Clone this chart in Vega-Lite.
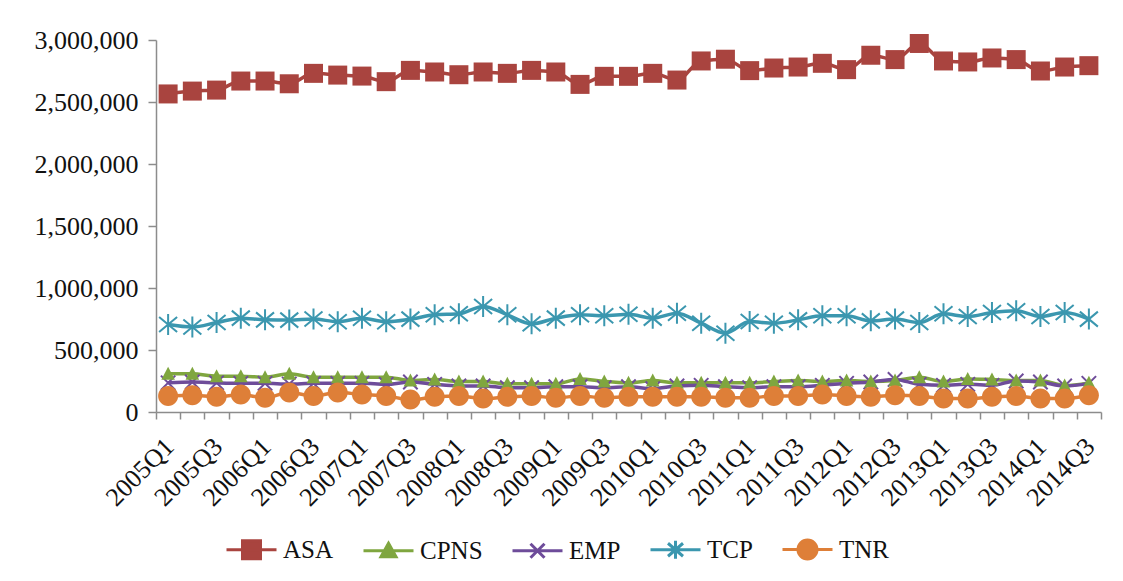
{
  "$schema": "https://vega.github.io/schema/vega-lite/v6.json",
  "autosize": "none",
  "padding": {"left": 156, "top": 40, "right": 22, "bottom": 169},
  "width": 945,
  "height": 372,
  "background": "white",
  "data": {"values": [
    {"q":"2005Q1","ASA":2565000,"CPNS":308000,"EMP":235000,"TCP":705000,"TNR":130000},
    {"q":"2005Q2","ASA":2588000,"CPNS":308000,"EMP":242000,"TCP":685000,"TNR":135000},
    {"q":"2005Q3","ASA":2596000,"CPNS":289000,"EMP":235000,"TCP":721000,"TNR":122000},
    {"q":"2005Q4","ASA":2669000,"CPNS":289000,"EMP":231000,"TCP":757000,"TNR":141000},
    {"q":"2006Q1","ASA":2669000,"CPNS":281000,"EMP":231000,"TCP":743000,"TNR":114000},
    {"q":"2006Q2","ASA":2647000,"CPNS":308000,"EMP":225000,"TCP":741000,"TNR":157000},
    {"q":"2006Q3","ASA":2731000,"CPNS":281000,"EMP":231000,"TCP":750000,"TNR":130000},
    {"q":"2006Q4","ASA":2717000,"CPNS":281000,"EMP":231000,"TCP":728000,"TNR":157000},
    {"q":"2007Q1","ASA":2709000,"CPNS":281000,"EMP":231000,"TCP":756000,"TNR":141000},
    {"q":"2007Q2","ASA":2664000,"CPNS":281000,"EMP":223000,"TCP":728000,"TNR":130000},
    {"q":"2007Q3","ASA":2755000,"CPNS":254000,"EMP":242000,"TCP":749000,"TNR":100000},
    {"q":"2007Q4","ASA":2742000,"CPNS":262000,"EMP":223000,"TCP":784000,"TNR":122000},
    {"q":"2008Q1","ASA":2720000,"CPNS":246000,"EMP":210000,"TCP":792000,"TNR":130000},
    {"q":"2008Q2","ASA":2742000,"CPNS":246000,"EMP":210000,"TCP":851000,"TNR":108000},
    {"q":"2008Q3","ASA":2731000,"CPNS":227000,"EMP":196000,"TCP":784000,"TNR":122000},
    {"q":"2008Q4","ASA":2755000,"CPNS":227000,"EMP":196000,"TCP":711000,"TNR":130000},
    {"q":"2009Q1","ASA":2742000,"CPNS":227000,"EMP":204000,"TCP":757000,"TNR":114000},
    {"q":"2009Q2","ASA":2642000,"CPNS":267000,"EMP":204000,"TCP":784000,"TNR":130000},
    {"q":"2009Q3","ASA":2707000,"CPNS":246000,"EMP":196000,"TCP":776000,"TNR":114000},
    {"q":"2009Q4","ASA":2707000,"CPNS":235000,"EMP":204000,"TCP":788000,"TNR":122000},
    {"q":"2010Q1","ASA":2731000,"CPNS":254000,"EMP":188000,"TCP":757000,"TNR":122000},
    {"q":"2010Q2","ASA":2677000,"CPNS":235000,"EMP":210000,"TCP":797000,"TNR":122000},
    {"q":"2010Q3","ASA":2831000,"CPNS":235000,"EMP":215000,"TCP":716000,"TNR":122000},
    {"q":"2010Q4","ASA":2845000,"CPNS":235000,"EMP":204000,"TCP":635000,"TNR":114000},
    {"q":"2011Q1","ASA":2753000,"CPNS":235000,"EMP":196000,"TCP":729000,"TNR":114000},
    {"q":"2011Q2","ASA":2774000,"CPNS":246000,"EMP":204000,"TCP":716000,"TNR":130000},
    {"q":"2011Q3","ASA":2782000,"CPNS":254000,"EMP":204000,"TCP":743000,"TNR":130000},
    {"q":"2011Q4","ASA":2812000,"CPNS":246000,"EMP":215000,"TCP":776000,"TNR":141000},
    {"q":"2012Q1","ASA":2761000,"CPNS":254000,"EMP":231000,"TCP":776000,"TNR":130000},
    {"q":"2012Q2","ASA":2877000,"CPNS":246000,"EMP":242000,"TCP":735000,"TNR":122000},
    {"q":"2012Q3","ASA":2842000,"CPNS":254000,"EMP":263000,"TCP":749000,"TNR":135000},
    {"q":"2012Q4","ASA":2972000,"CPNS":281000,"EMP":223000,"TCP":721000,"TNR":130000},
    {"q":"2013Q1","ASA":2831000,"CPNS":246000,"EMP":215000,"TCP":792000,"TNR":108000},
    {"q":"2013Q2","ASA":2823000,"CPNS":267000,"EMP":223000,"TCP":770000,"TNR":108000},
    {"q":"2013Q3","ASA":2855000,"CPNS":262000,"EMP":215000,"TCP":802000,"TNR":122000},
    {"q":"2013Q4","ASA":2842000,"CPNS":254000,"EMP":250000,"TCP":816000,"TNR":130000},
    {"q":"2014Q1","ASA":2750000,"CPNS":254000,"EMP":242000,"TCP":770000,"TNR":108000},
    {"q":"2014Q2","ASA":2782000,"CPNS":214000,"EMP":210000,"TCP":802000,"TNR":108000},
    {"q":"2014Q3","ASA":2793000,"CPNS":235000,"EMP":231000,"TCP":749000,"TNR":135000}
  ]},
  "transform": [
    {"fold": ["ASA", "CPNS", "EMP", "TCP", "TNR"], "as": ["series", "value"]}
  ],
  "encoding": {
    "x": {
      "field": "q", "type": "ordinal", "bandPosition": 0.5,
      "scale": {"type": "band", "paddingInner": 0, "paddingOuter": 0},
      "axis": {
        "title": null, "tickBand": "extent", "labelAngle": -45, "labelOverlap": false, "labelBound": false,
        "labelExpr": "(substring(datum.value,5,6) == '1' || substring(datum.value,5,6) == '3') ? datum.value : ''",
        "labelFont": "Liberation Serif", "labelFontSize": 26, "labelColor": "#111",
        "domainColor": "#8c8c8c", "domainWidth": 1.5, "tickColor": "#8c8c8c", "tickWidth": 1.5, "tickSize": 7,
        "labelPadding": 14, "labelOffset": -8
      }
    },
    "y": {
      "field": "value", "type": "quantitative",
      "scale": {"domain": [0, 3000000], "nice": false},
      "axis": {
        "title": null, "values": [0, 500000, 1000000, 1500000, 2000000, 2500000, 3000000], "format": ",d",
        "grid": false, "labelFont": "Liberation Serif", "labelFontSize": 26, "labelColor": "#111",
        "domainColor": "#8c8c8c", "domainWidth": 1.5, "tickColor": "#8c8c8c", "tickWidth": 1.5, "tickSize": 8,
        "labelPadding": 10
      }
    }
  },
  "layer": [
    {
      "mark": {"type": "line", "interpolate": "monotone", "strokeWidth": 3.5},
      "encoding": {
        "color": {"field": "series", "type": "nominal", "legend": null,
          "scale": {"domain": ["ASA", "CPNS", "EMP", "TCP", "TNR"], "range": ["#A9443F", "#7FA63F", "#6E4C9A", "#3B97AF", "#DE7F38"]}},
        "detail": {"field": "series"}
      }
    },
    {
      "transform": [{"filter": "datum.series == 'EMP' || datum.series == 'TCP'"}],
      "mark": {"type": "point", "filled": false, "strokeWidth": 2, "size": 400, "opacity": 1},
      "encoding": {
        "color": {"field": "series", "type": "nominal", "legend": null,
          "scale": {"domain": ["ASA", "CPNS", "EMP", "TCP", "TNR"], "range": ["#A9443F", "#7FA63F", "#6E4C9A", "#3B97AF", "#DE7F38"]}},
        "shape": {"field": "series", "type": "nominal", "legend": null,
          "scale": {"domain": ["ASA", "CPNS", "EMP", "TCP", "TNR"], "range": [
            "M-0.95,-0.95H0.95V0.95H-0.95Z",
            "M0,-0.7L0.68,0.6H-0.68Z",
            "M-0.72,-0.72L0.72,0.72M-0.72,0.72L0.72,-0.72",
            "M-0.9,-0.75L0.9,0.75M-0.9,0.75L0.9,-0.75M0,-1.05V1.05",
            "M-1,0A1,1 0 1,0 1,0A1,1 0 1,0 -1,0Z"]}}
      }
    },
    {
      "transform": [{"filter": "datum.series == 'ASA' || datum.series == 'CPNS' || datum.series == 'TNR'"}],
      "mark": {"type": "point", "filled": true, "size": 400, "opacity": 1},
      "encoding": {
        "color": {"field": "series", "type": "nominal", "legend": null,
          "scale": {"domain": ["ASA", "CPNS", "EMP", "TCP", "TNR"], "range": ["#A9443F", "#7FA63F", "#6E4C9A", "#3B97AF", "#DE7F38"]}},
        "shape": {"field": "series", "type": "nominal", "legend": null,
          "scale": {"domain": ["ASA", "CPNS", "EMP", "TCP", "TNR"], "range": [
            "M-0.95,-0.95H0.95V0.95H-0.95Z",
            "M0,-0.7L0.68,0.6H-0.68Z",
            "M-0.72,-0.72L0.72,0.72M-0.72,0.72L0.72,-0.72",
            "M-0.9,-0.75L0.9,0.75M-0.9,0.75L0.9,-0.75M0,-1.05V1.05",
            "M-1,0A1,1 0 1,0 1,0A1,1 0 1,0 -1,0Z"]}}
      }
    },
    {
      "mark": {"type": "point", "filled": true, "opacity": 0, "size": 1},
      "encoding": {
        "fill": {"field": "series", "type": "nominal",
          "scale": {"domain": ["ASA", "CPNS", "EMP", "TCP", "TNR"], "range": ["#A9443F", "#7FA63F", "transparent", "transparent", "#DE7F38"]},
          "legend": {"title": null}},
        "stroke": {"field": "series", "type": "nominal",
          "scale": {"domain": ["ASA", "CPNS", "EMP", "TCP", "TNR"], "range": ["#A9443F", "#7FA63F", "#6E4C9A", "#3B97AF", "#DE7F38"]},
          "legend": {"title": null}},
        "shape": {"field": "series", "type": "nominal",
          "scale": {"domain": ["ASA", "CPNS", "EMP", "TCP", "TNR"], "range": [
            "M-1,0H1M-0.36,-0.36H0.36V0.36H-0.36Z",
            "M-1,0H1M0,-0.3L0.3,0.24H-0.3Z",
            "M-1,0H1M-0.28,-0.28L0.28,0.28M-0.28,0.28L0.28,-0.28",
            "M-1,0H1M-0.3,-0.26L0.3,0.26M-0.3,0.26L0.3,-0.26M0,-0.36V0.36",
            "M-1,0H1M-0.38,0A0.38,0.38 0 1,0 0.38,0A0.38,0.38 0 1,0 -0.38,0Z"]},
          "legend": {"title": null}}
      }
    }
  ],
  "resolve": {"scale": {"shape": "independent", "fill": "independent", "stroke": "independent"}},
  "config": {
    "view": {"stroke": null},
    "legend": {
      "orient": "none", "legendX": 69, "legendY": 483, "direction": "horizontal", "symbolSize": 2500, "symbolStrokeWidth": 3,
      "symbolOpacity": 1, "labelFont": "Liberation Serif", "labelFontSize": 25, "labelColor": "#111",
      "labelOffset": 5, "columnPadding": 23
    }
  }
}
